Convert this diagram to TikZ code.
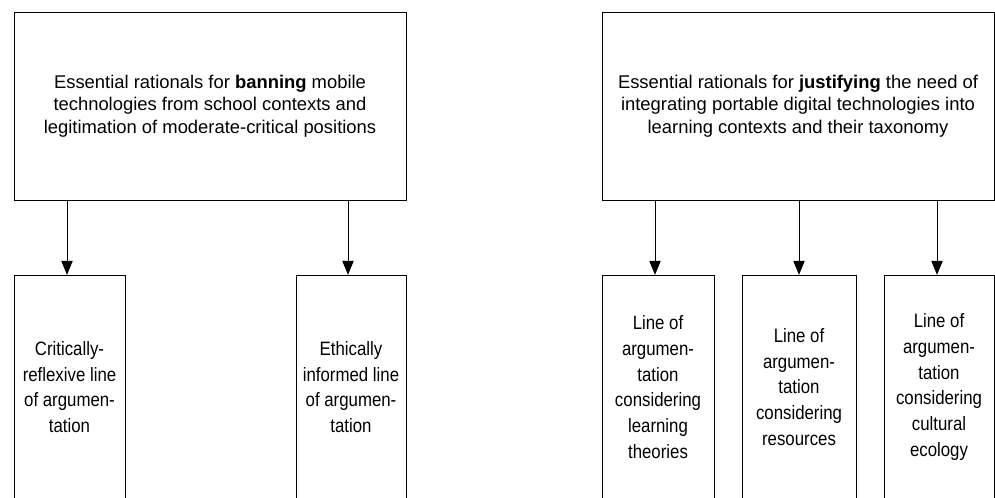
\documentclass[tikz,border=0pt]{standalone}
\usepackage{fontspec}
\setmainfont{Liberation Sans}
\newfontfamily\narrowsans[FakeStretch=0.87]{Liberation Sans}
\usetikzlibrary{arrows.meta}
\begin{document}
\begin{tikzpicture}[x=0.75pt,y=-0.75pt,>={Triangle[width=8.5pt,length=10.5pt]},line cap=butt,
	topbox/.style={draw,line width=0.75pt,minimum width=294pt,minimum height=141pt,align=center,font=\fontsize{13.8pt}{16.9pt}\selectfont},
	linebox/.style={draw,line width=0.75pt,minimum height=167.5pt,align=center,inner sep=0pt,font=\narrowsans\fontsize{14.5pt}{19.3pt}\selectfont}]
	\clip (0,0) rectangle (995,497);
	% upper boxes
	\node[topbox] (ban) at (210,106) {Essential rationals for \textbf{banning} mobile\\technologies from school contexts and\\legitimation of moderate-critical positions};
	\node[topbox] (just) at (798,106) {Essential rationals for \textbf{justifying} the need of\\integrating portable digital technologies into\\learning contexts and their taxonomy};
	% lines of argumentation
	\node[linebox,minimum width=83.25pt] (crit) at (69.5,387) {Critically-\\reflexive line\\of argumen-\\tation};
	\node[linebox,minimum width=82.5pt] (ethic) at (351,387) {Ethically\\informed line\\of argumen-\\tation};
	\node[linebox,minimum width=84pt] (learn) at (658,387) {Line of\\argumen-\\tation\\considering\\learning\\theories};
	\node[linebox,minimum width=85.5pt] (res) at (799,387) {Line of\\argumen-\\tation\\considering\\resources};
	\node[linebox,minimum width=82.5pt] (cult) at (939,387) {Line of\\argumen-\\tation\\considering\\cultural\\ecology};
	\foreach \a/\b/\d in {ban/crit/-2.5,ban/ethic/-3,just/learn/-3,just/res/0,just/cult/-2}
		\draw[->,line width=0.75pt] ([xshift=\d*0.75pt]\a.south -| \b.north) -- ([xshift=\d*0.75pt]\b.north);
\end{tikzpicture}
\end{document}
